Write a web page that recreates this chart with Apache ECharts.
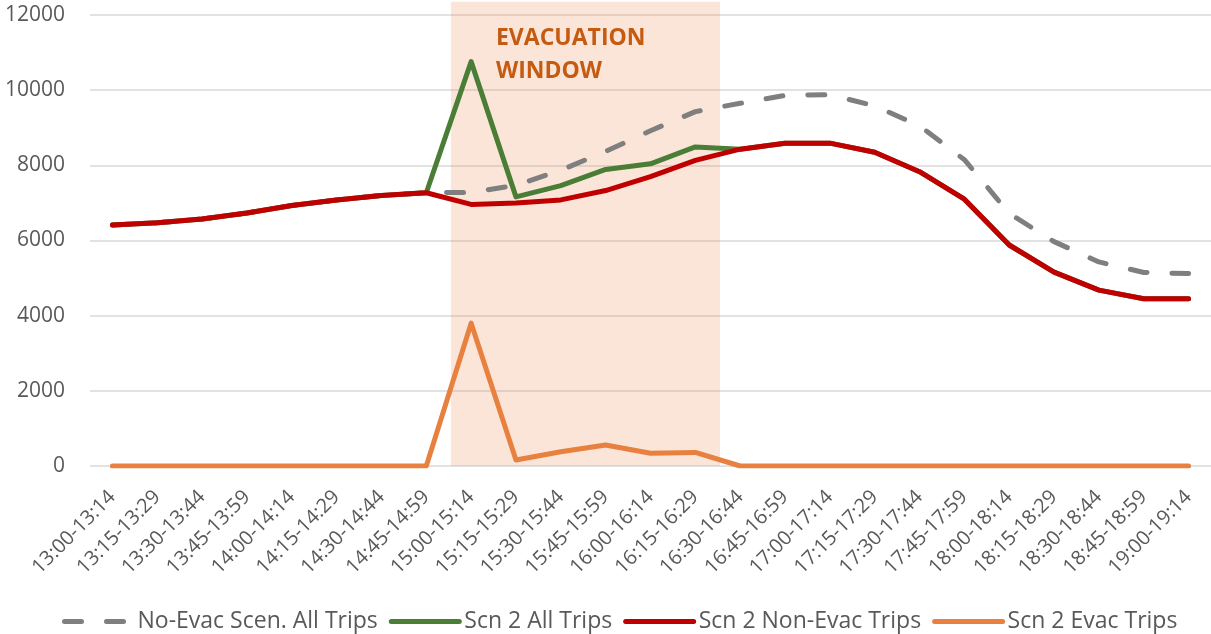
<!DOCTYPE html>
<html>
<head>
<meta charset="utf-8">
<script src="https://cdn.jsdelivr.net/npm/echarts@6/dist/echarts.min.js"></script>
<style>
  html, body { margin: 0; padding: 0; background: #fff; }
  #chart { width: 1211px; height: 634px; }
</style>
</head>
<body>
<div id="chart"></div>
<script>
// 15-minute time slices
const categories = [
  '13:00-13:14', '13:15-13:29', '13:30-13:44', '13:45-13:59',
  '14:00-14:14', '14:15-14:29', '14:30-14:44', '14:45-14:59',
  '15:00-15:14', '15:15-15:29', '15:30-15:44', '15:45-15:59',
  '16:00-16:14', '16:15-16:29', '16:30-16:44', '16:45-16:59',
  '17:00-17:14', '17:15-17:29', '17:30-17:44', '17:45-17:59',
  '18:00-18:14', '18:15-18:29', '18:30-18:44', '18:45-18:59',
  '19:00-19:14'
];

// Trips per time slice
const noEvacAllTrips = [6410, 6470, 6570, 6730, 6930, 7080, 7200, 7270, 7280, 7470, 7870, 8370, 8920, 9430, 9650, 9860, 9880, 9580, 9050, 8150, 6720, 5970, 5430, 5150, 5120];
const scn2AllTrips    = [6410, 6470, 6570, 6730, 6930, 7080, 7200, 7270, 10760, 7160, 7460, 7890, 8040, 8490, 8430, 8590, 8590, 8350, 7830, 7100, 5880, 5160, 4680, 4450, 4450];
const scn2NonEvac     = [6410, 6470, 6570, 6730, 6930, 7080, 7200, 7270, 6960, 7000, 7080, 7330, 7700, 8130, 8430, 8590, 8590, 8350, 7830, 7100, 5880, 5160, 4680, 4450, 4450];
const scn2Evac        = [0, 0, 0, 0, 0, 0, 0, 0, 3800, 160, 380, 560, 340, 360, 0, 0, 0, 0, 0, 0, 0, 0, 0, 0, 0];

// Y axis ticks
const yTicks = [0, 2000, 4000, 6000, 8000, 10000, 12000];

// Evacuation window, in slice units (start of 15:00 slice to end of 16:15 slice)
const windowStart = 8.05;
const windowEnd = 14.05;
const windowTop = 12350;

const FONT = '"Open Sans", "Noto Sans", sans-serif';
const TEXT = '#595959';

const chart = echarts.init(document.getElementById('chart'));

function lineSeries(name, data, color, extra) {
  return Object.assign({
    name: name,
    type: 'line',
    data: data,
    xAxisIndex: 0,
    symbol: 'none',
    showSymbol: false,
    z: 3,
    animation: false,
    lineStyle: { color: color, width: 5, cap: 'round', join: 'round' },
    itemStyle: { color: color }
  }, extra || {});
}

chart.setOption({
  animation: false,
  textStyle: { fontFamily: FONT },
  grid: { left: 90, right: 0, top: 15, bottom: 168, containLabel: false },
  legend: {
    bottom: -4,
    left: 57,
    itemWidth: 68,
    itemHeight: 14,
    itemGap: 11,
    itemStyle: { opacity: 0 },
    lineStyle: { width: 5, cap: 'round' },
    textStyle: { color: TEXT, fontSize: 23, fontFamily: FONT },
    data: ['No-Evac Scen. All Trips', 'Scn 2 All Trips', 'Scn 2 Non-Evac Trips', 'Scn 2 Evac Trips']
  },
  xAxis: [
    {
      type: 'category',
      data: categories,
      boundaryGap: true,
      axisLine: { show: false },
      axisTick: { show: false },
      axisLabel: { rotate: 45, color: TEXT, fontSize: 20, margin: 28, interval: 0 }
    },
    {
      type: 'value',
      min: 0,
      max: categories.length,
      show: false
    }
  ],
  yAxis: {
    type: 'value',
    min: yTicks[0],
    max: yTicks[yTicks.length - 1],
    interval: yTicks[1] - yTicks[0],
    axisLine: { show: false },
    axisTick: { show: false },
    axisLabel: { color: TEXT, fontSize: 21, margin: 25, formatter: (v) => String(v) },
    splitLine: { lineStyle: { color: '#D9D9D9', width: 1.5 } }
  },
  series: [
    lineSeries('No-Evac Scen. All Trips', noEvacAllTrips, '#7F7F7F', {
      lineStyle: { color: '#7F7F7F', width: 5, type: [17, 25], cap: 'round', join: 'round' }
    }),
    lineSeries('Scn 2 All Trips', scn2AllTrips, '#4A7D36'),
    lineSeries('Scn 2 Non-Evac Trips', scn2NonEvac, '#C00000'),
    lineSeries('Scn 2 Evac Trips', scn2Evac, '#E8813F')
  ]
});

// Shaded evacuation window, placed through the chart's own axis scales
// (the band reaches a little above the plot top, so it is drawn as a graphic).
const finder = { xAxisIndex: 1, yAxisIndex: 0 };
const p0 = chart.convertToPixel(finder, [windowStart, 0]);
const p1 = chart.convertToPixel(finder, [windowEnd, windowTop]);

chart.setOption({
  graphic: [
    {
      type: 'rect',
      z: 1,
      silent: true,
      shape: {
        x: p0[0],
        y: p1[1],
        width: p1[0] - p0[0],
        height: p0[1] - p1[1]
      },
      style: { fill: 'rgba(236,125,60,0.2)' }
    },
    {
      type: 'text',
      z: 10,
      silent: true,
      x: p0[0] + 45,
      y: 22,
      style: {
        text: 'EVACUATION\nWINDOW',
        fill: '#C55A11',
        font: 'bold 23px ' + FONT,
        lineHeight: 33
      }
    }
  ]
});
</script>
</body>
</html>
